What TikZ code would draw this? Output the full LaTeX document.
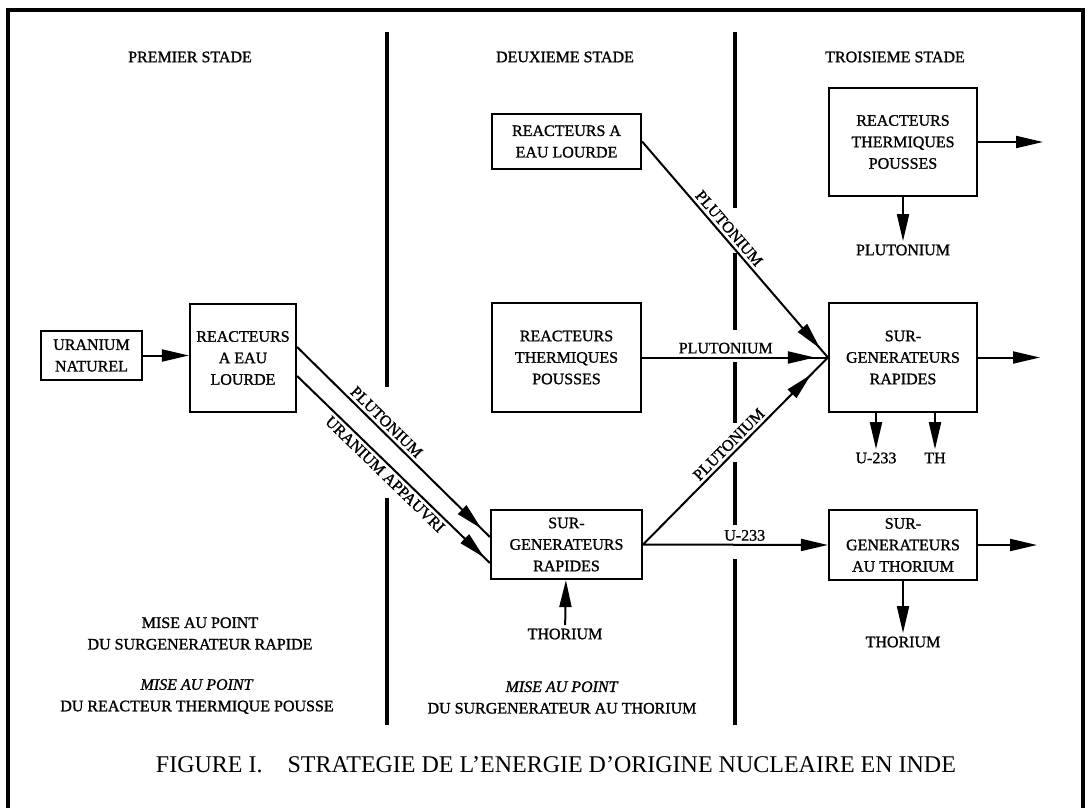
\documentclass[tikz,border=0pt]{standalone}
\usepackage{fontspec}
\setmainfont{Liberation Serif}[BoldFont={Liberation Serif},BoldFeatures={FakeBold=1.2},
	BoldItalicFont={Liberation Serif Italic},BoldItalicFeatures={FakeBold=1.2}]
\usetikzlibrary{arrows.meta,decorations.markings}

\begin{document}
\begin{tikzpicture}[x=1pt,y=-1pt,font=\fontsize{16}{21.5}\selectfont\bfseries,
	box/.style={draw,line width=2.2pt,align=center,inner sep=2pt},
	rule/.style={line width=3.4pt},
	flow/.style={line width=2pt,-{Triangle[length=27pt,width=12pt]}},
	midflow/.style={line width=2pt,postaction={decorate},
		decoration={markings,mark=at position #1 with {\arrow{Triangle[length=27pt,width=12pt]}}}},
	tag/.style={inner sep=3pt}]
				\useasboundingbox (0,0) rectangle (1092,808);
				\fill[white] (0,0) rectangle (1092,808);

				\draw[rule] (8,830) -- (8,10) -- (1083,10) -- (1083,830);
				\foreach \a/\b in {32/387,498/725}{
					\draw[rule] (387,\a) -- (387,\b);
				}
				\foreach \a/\b in {32/208,253/330,362/423,462/525,559/725}{
					\draw[rule] (735,\a) -- (735,\b);
				}

				\node (st1) at (190,57) {PREMIER STADE};
				\node (st2) at (565,57) {DEUXIEME STADE};
				\node (st3) at (895,57) {TROISIEME STADE};

				\node[box,minimum width=101pt,minimum height=49pt] (unat) at (91.5,355.5) {URANIUM\\NATUREL};
				\node[box,minimum width=106pt,minimum height=108pt] (rel1) at (243,358) {REACTEURS\\A EAU\\LOURDE};
				\node[box,minimum width=149pt,minimum height=55pt] (rel2) at (566.5,141.5) {REACTEURS A\\EAU LOURDE};
				\node[box,minimum width=149pt,minimum height=109pt] (rtp2) at (566.5,357.5) {REACTEURS\\THERMIQUES\\POUSSES};
				\node[box,minimum width=151pt,minimum height=69pt] (sgr2) at (566.5,544.5) {SUR-\\GENERATEURS\\RAPIDES};
				\node[box,minimum width=148pt,minimum height=108pt] (rtp3) at (903,142) {REACTEURS\\THERMIQUES\\POUSSES};
				\node[box,minimum width=148pt,minimum height=109pt] (sgr3) at (903,357.5) {SUR-\\GENERATEURS\\RAPIDES};
				\node[box,minimum width=148pt,minimum height=70pt] (sgt3) at (903,545) {SUR-\\GENERATEURS\\AU THORIUM};

				\node (thor2) at (565,634) {THORIUM};
				\node (plu3) at (903,250) {PLUTONIUM};
				\node (u3) at (876,458) {U-233};
				\node (th3) at (935,458) {TH};
				\node (thor3) at (903,642) {THORIUM};
				\coordinate (out1) at (1043,142);
				\coordinate (out2) at (1040,357.5);
				\coordinate (out3) at (1037,545);

				\draw[flow] (unat.east) -- (unat.east -| rel1.west);
				\draw[midflow=-12pt] ([yshift=11pt]rel1.east) -- node[tag,sloped,above,pos=0.43]{PLUTONIUM} ([yshift=7.5pt]sgr2.west);
				\draw[midflow=-8pt] ([yshift=-18pt]rel1.east) -- node[tag,sloped,below,pos=0.49]{URANIUM APPAUVRI} ([yshift=-18.5pt]sgr2.west);
				\draw[midflow=-12pt] (rel2.east) -- node[tag,sloped,above,pos=0.43]{PLUTONIUM} (sgr3.west);
				\draw[midflow=-13pt] (rtp2.east) -- node[tag,above,pos=0.45]{PLUTONIUM} (sgr3.west);
				\draw[midflow=-24pt] (sgr2.east) -- node[tag,sloped,above,pos=0.5]{PLUTONIUM} (sgr3.west);
				\draw[flow] (sgr2.east) -- node[tag,above,pos=0.55]{U-233} (sgt3.west);
				\draw[flow] (thor2) -- (sgr2);

				\draw[flow] (rtp3.east) -- (out1);
				\draw[flow] (rtp3) -- (plu3);
				\draw[flow] (sgr3.east) -- (out2);
				\draw[flow] (u3 |- sgr3.south) -- (u3);
				\draw[flow] (th3 |- sgr3.south) -- (th3);
				\draw[flow] (sgt3.east) -- (out3);
				\draw[flow] (sgt3) -- (thor3);

				\node[align=center] (dev1) at (200,633.5) {MISE AU POINT\\DU SURGENERATEUR RAPIDE};
				\node[align=center] (dev2) at (197,696.5) {\textit{MISE AU POINT}\\DU REACTEUR THERMIQUE POUSSE};
				\node[align=center] (dev3) at (562,697.5) {\textit{MISE AU POINT}\\DU SURGENERATEUR AU THORIUM};

				\node (cap) at (556,765) {\fontsize{24}{28}\selectfont\mdseries FIGURE I.\hspace{25pt}STRATEGIE DE L'ENERGIE D'ORIGINE NUCLEAIRE EN INDE};
\end{tikzpicture}
\end{document}
